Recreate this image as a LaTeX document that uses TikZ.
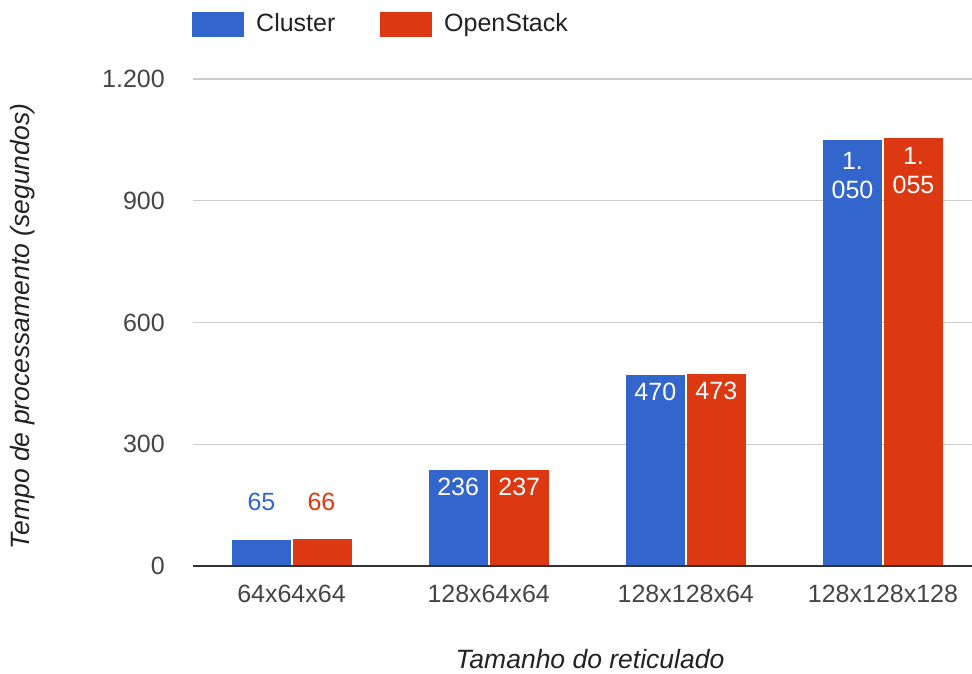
\documentclass[tikz,border=0pt]{standalone}
\usepackage{fontspec}
\setmainfont{Liberation Sans}
\definecolor{cblue}{HTML}{3366CC}
\definecolor{cred}{HTML}{DC3912}
\definecolor{gridgray}{HTML}{CCCCCC}
\definecolor{axisgray}{HTML}{333333}
\definecolor{labelgray}{HTML}{444444}
\definecolor{titlegray}{HTML}{222222}
\tikzset{
  txt/.style={inner sep=0pt, font=\fontsize{25}{29}\selectfont},
  ticklabel/.style={txt, text=labelgray, anchor=east},
  catlabel/.style={txt, text=labelgray},
  axistitle/.style={inner sep=0pt, text=titlegray, font=\fontsize{26.5}{30}\selectfont\itshape},
  inlabel/.style={txt, text=white, align=center},
  legendtext/.style={txt, text=titlegray, anchor=base west},
  gridline/.style={draw=gridgray, line width=1.2pt},
  baseline/.style={draw=axisgray, line width=2pt},
}
\begin{document}
\begin{tikzpicture}[x=1pt,y=-1pt]
\useasboundingbox (0,0) rectangle (972,674);

% horizontal grid and tick labels (0 at y=566, 1200 at y=79)
\foreach \v/\lab/\yy in {300/300/444.25, 600/600/322.5, 900/900/200.75, 1200/1.200/79} {
  \draw[gridline] (193,\yy) -- (972,\yy);
  \node[ticklabel] (tick\v) at (165,\yy) {\lab};
}
\node[ticklabel] (tick0) at (165,566) {0};

% bars: group centre / cluster value / openstack value / category
\foreach \c/\a/\b/\cat [count=\i] in {291.5/65/66/64x64x64, 488.7/236/237/128x64x64, 685.8/470/473/128x128x64, 883/1050/1055/128x128x128} {
  \fill[cblue] (\c-60,566) rectangle (\c-1,{566-\a*0.405833});
  \fill[cred]  (\c+1,566) rectangle (\c+60,{566-\b*0.405833});
  \node[catlabel] (cat\i) at (\c,594) {\cat};
}
\draw[baseline] (193,566) -- (972,566);

% value labels
\node[txt, text=cblue] (v1a) at (261.5,502) {65};
\node[txt, text=cred]  (v1b) at (321.5,502) {66};
\node[inlabel] (v2a) at (458.2,487) {236};
\node[inlabel] (v2b) at (519.2,487) {237};
\node[inlabel] (v3a) at (655.3,392) {470};
\node[inlabel] (v3b) at (716.3,391) {473};
\node[inlabel] (v4a) at (852.5,175.5) {1.\\050};
\node[inlabel] (v4b) at (913.5,170.5) {1.\\055};

% axis titles
\node[axistitle, anchor=base] (xtitle) at (590,668) {Tamanho do reticulado};
\node[axistitle, rotate=90] (ytitle) at (23,326.5) {Tempo de processamento (segundos)};

% legend
\fill[cblue] (192,12) rectangle (244,37);
\node[legendtext] (legc) at (256,32) {Cluster};
\fill[cred] (380,12) rectangle (432,37);
\node[legendtext] (lego) at (444,32) {OpenStack};
\end{tikzpicture}
\end{document}
